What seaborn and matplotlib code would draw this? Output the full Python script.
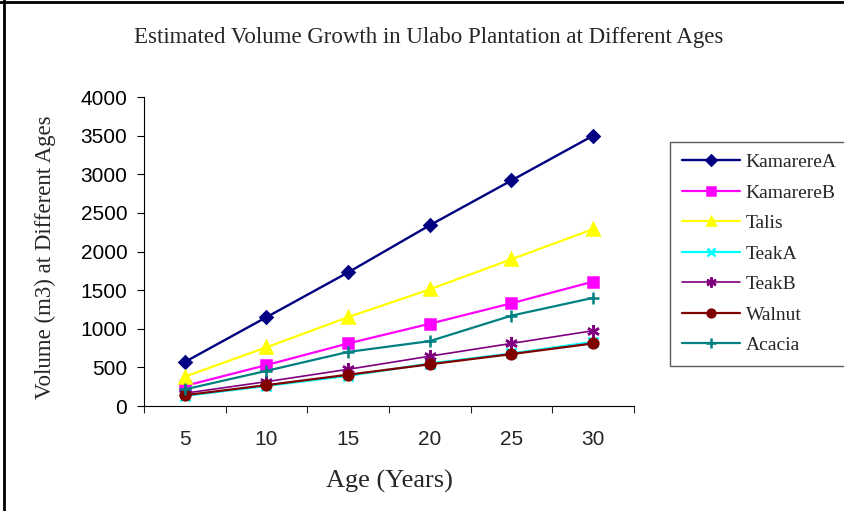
import numpy as np
import pandas as pd
import matplotlib
matplotlib.use("Agg")
import matplotlib.pyplot as plt
from matplotlib.lines import Line2D
import seaborn as sns

# ages (categories on the x axis) and estimated volumes (m3)
ages = [5, 10, 15, 20, 25, 30]
kamarere_a = [570, 1150, 1730, 2340, 2920, 3500]
kamarere_b = [260, 530, 810, 1065, 1330, 1610]
talis = [380, 760, 1150, 1510, 1900, 2290]
teak_a = [130, 260, 390, 550, 680, 830]
teak_b = [165, 315, 475, 645, 810, 975]
walnut = [140, 270, 405, 540, 672, 810]
acacia = [215, 455, 700, 840, 1170, 1400]

series = {
    "KamarereA": kamarere_a,
    "KamarereB": kamarere_b,
    "Talis": talis,
    "TeakA": teak_a,
    "TeakB": teak_b,
    "Walnut": walnut,
    "Acacia": acacia,
}
colors = {"KamarereA": "#000080", "KamarereB": "#FF00FF", "Talis": "#FFFF00",
          "TeakA": "#00FFFF", "TeakB": "#800080", "Walnut": "#800000", "Acacia": "#008080"}
markers = {"KamarereA": "D", "KamarereB": "s", "Talis": "^", "TeakA": "x",
           "TeakB": (6, 2, 0), "Walnut": "o", "Acacia": "+"}
msizes = {"KamarereA": 6.5, "KamarereB": 7, "Talis": 8, "TeakA": 7,
          "TeakB": 9, "Walnut": 7, "Acacia": 9}
lwidths = {"KamarereA": 1.7, "KamarereB": 1.6, "Talis": 1.6, "TeakA": 1.6,
           "TeakB": 1.2, "Walnut": 1.6, "Acacia": 1.6}

rows = []
for name, vals in series.items():
    for i, (a, v) in enumerate(zip(ages, vals)):
        rows.append({"series": name, "age": a, "pos": i, "volume": v})
df = pd.DataFrame(rows)

sns.set_style("ticks")
plt.rcParams["font.family"] = ["Liberation Sans", "DejaVu Sans"]

fig = plt.figure(figsize=(8.45, 5.11), dpi=100)
ax = fig.add_axes([144 / 845, 1 - 406 / 511, 490 / 845, 309 / 511])

for name in series:
    sub = df[df["series"] == name]
    sns.lineplot(data=sub, x="pos", y="volume", ax=ax, color=colors[name],
                 marker=markers[name], markersize=msizes[name],
                 markeredgecolor=colors[name], markeredgewidth=1.8,
                 linewidth=lwidths[name], label=name, errorbar=None)

ax.set_xlim(-0.5, len(ages) - 0.5)
ax.set_ylim(0, 4000)
ax.set_yticks(np.arange(0, 4001, 500))
ax.tick_params(axis="y", labelsize=15, length=5, width=0.8, pad=7, colors="black")

# category boundaries get the tick marks, labels sit in the middle
ax.set_xticks(np.arange(-0.5, len(ages), 1))
ax.set_xticklabels([])
ax.set_xticks(np.arange(len(ages)), minor=True)
ax.set_xticklabels([str(a) for a in ages], minor=True)
ax.tick_params(axis="x", which="major", length=5, width=0.8)
ax.tick_params(axis="x", which="minor", length=0, labelsize=15, pad=17)

for s in ["top", "right"]:
    ax.spines[s].set_visible(False)
for s in ["left", "bottom"]:
    ax.spines[s].set_color("black")
    ax.spines[s].set_linewidth(0.8)

serif = ["Liberation Serif", "DejaVu Serif"]
ax.set_xlabel("Age (Years)", family=serif, fontsize=19, labelpad=15)
ax.set_ylabel("Volume (m3) at Different Ages", family=serif, fontsize=16.5, labelpad=16)
ax.yaxis.set_label_coords(-0.18, 0.48)
fig.text(429 / 845, 1 - 37 / 511, "Estimated Volume Growth in Ulabo Plantation at Different Ages",
         family=serif, fontsize=16.5, ha="center", va="center")

leg = ax.legend(loc="upper left", bbox_to_anchor=(670 / 845, 1 - 142 / 511),
                bbox_transform=fig.transFigure, prop={"family": serif, "size": 14},
                frameon=True, fancybox=False, handlelength=3.0, labelspacing=0.66,
                borderpad=0.6, handletextpad=0.3, borderaxespad=0, markerscale=0.8)
leg.get_frame().set_edgecolor("#333333")
leg.get_frame().set_linewidth(1.0)

# outer border on the left and top of the picture
fig.add_artist(Line2D([4 / 845, 4 / 845], [0, 1], transform=fig.transFigure, color="black", lw=2))
fig.add_artist(Line2D([0, 1], [1 - 2 / 511, 1 - 2 / 511], transform=fig.transFigure, color="black", lw=2))

fig.savefig("out.png", dpi=100)
